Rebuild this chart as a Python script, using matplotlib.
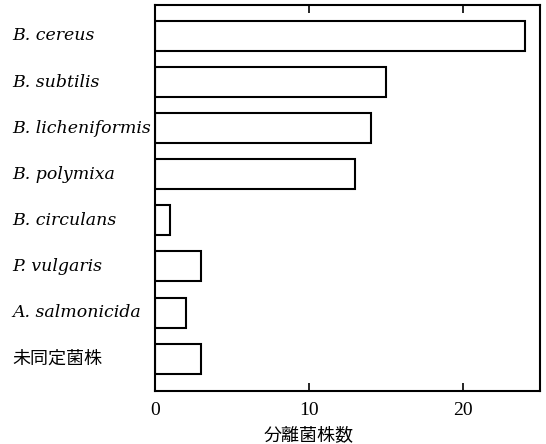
import matplotlib
matplotlib.use("Agg")
import matplotlib.pyplot as plt
from matplotlib.transforms import blended_transform_factory

categories = ["B. cereus", "B. subtilis", "B. licheniformis", "B. polymixa",
              "B. circulans", "P. vulgaris", "A. salmonicida", "未同定菌株"]
values = [24, 15, 14, 13, 1, 3, 2, 3]
xticks = [0, 10, 20]
xlabel = "分離菌株数"

fig = plt.figure(figsize=(5.46, 4.44), dpi=100)
ax = fig.add_axes([155/546, 1-391/444, 385/546, 386/444])
ypos = list(range(len(categories)))
ax.barh(ypos, values, height=0.65, color="white", edgecolor="black", linewidth=1.5)
ax.set_xlim(0, 25)
ax.set_ylim(len(categories) - 0.3, -0.67)
for s in ax.spines.values():
    s.set_linewidth(1.5)
ax.set_xticks(xticks)
ax.set_xticklabels([str(t) for t in xticks], fontfamily="Liberation Serif", fontsize=14)
ax.tick_params(axis="x", direction="in", top=True, length=6, width=1.2, pad=8)
ax.set_yticks([])
ax.set_xlabel(xlabel, fontfamily=["Noto Sans CJK JP", "DejaVu Sans"], fontsize=13)
ax.xaxis.set_label_coords(10/25, -0.09)

tr = blended_transform_factory(fig.transFigure, ax.transData)
for y, c in zip(ypos, categories):
    if any(ord(ch) > 0x3000 for ch in c):
        ax.text(12/546, y, c, transform=tr, ha="left", va="center", fontsize=13,
                fontfamily=["Noto Sans CJK JP", "DejaVu Sans"])
    else:
        ax.text(12/546, y, c, transform=tr, ha="left", va="center", fontsize=12.5,
                fontfamily="DejaVu Serif", fontstyle="italic")

fig.savefig("out.png", dpi=100)
